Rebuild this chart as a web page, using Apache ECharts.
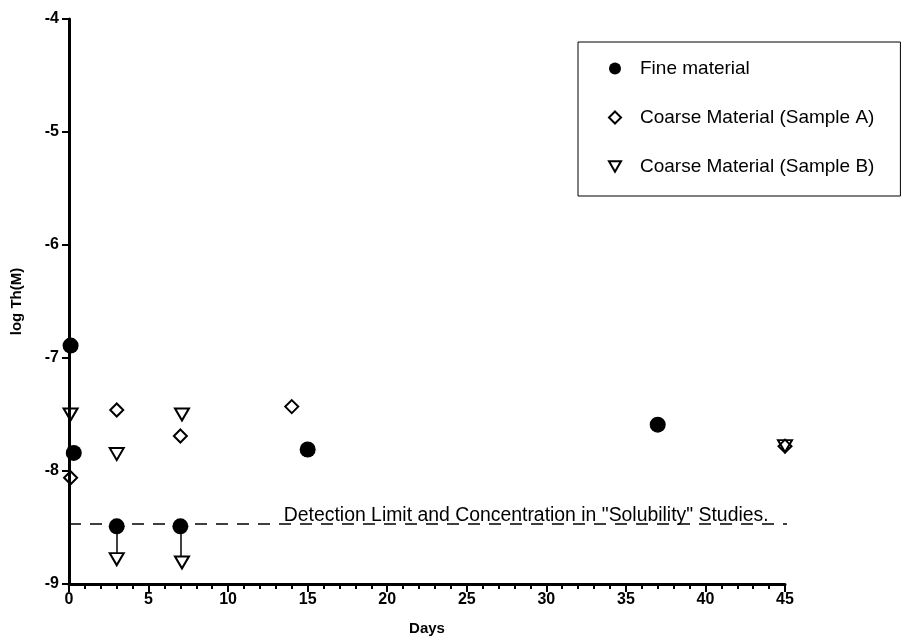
<!DOCTYPE html>
<html>
<head>
<meta charset="utf-8">
<script src="https://cdn.jsdelivr.net/npm/echarts@6/dist/echarts.min.js"></script>
<style>
  html, body { margin: 0; padding: 0; background: #fff; }
  #chart { width: 904px; height: 641px; }
</style>
</head>
<body>
<div id="chart"></div>
<script>
// Thorium concentration (log molar) versus contact time in days
const fineDays = [0.1, 0.3, 3, 7, 15, 37];
const fineLog = [-6.89, -7.84, -8.49, -8.49, -7.81, -7.59];

const sampleADays = [0.1, 3, 7, 14, 45];
const sampleALog = [-8.06, -7.46, -7.69, -7.43, -7.78];

const sampleBDays = [0.1, 3, 3, 7.1, 7.1, 45];
const sampleBLog = [-7.50, -7.85, -8.78, -7.50, -8.81, -7.78];

// "less than" arrows: from a fine-material point down to a Sample B point
const arrowDays = [3, 7];
const arrowTop = [-8.49, -8.49];
const arrowBottom = [-8.78, -8.81];

// detection limit reference line
const detectionLimit = -8.47;
const detectionSpan = [0, 46.3];
const detectionText = 'Detection Limit and Concentration in "Solubility" Studies.';
const detectionTextDay = 13.5;

const xTicks = { min: 0, max: 45, step: 5 };
const yTicks = { min: -9, max: -4, step: 1 };

const seriesNames = ['Fine material', 'Coarse Material (Sample A)', 'Coarse Material (Sample B)'];

const zip = (xs, ys) => xs.map((x, i) => [x, ys[i]]);

const font = '"Liberation Sans", Arial, Helvetica, sans-serif';
const downTriangle = 'path://M0,0L14,0L7,12Z';

const chart = echarts.init(document.getElementById('chart'), null, { renderer: 'canvas' });

chart.setOption({
  animation: false,
  backgroundColor: '#ffffff',
  textStyle: { fontFamily: font, color: '#000' },
  grid: { left: 69, right: 119, top: 19, bottom: 51, containLabel: false },
  legend: {
    orient: 'vertical',
    left: 578,
    top: 42,
    padding: [17, 26, 20, 30],
    itemGap: 30,
    itemWidth: 12,
    itemHeight: 12,
    borderColor: '#000',
    borderWidth: 1,
    backgroundColor: '#fff',
    selectedMode: false,
    textStyle: { fontFamily: font, fontSize: 19, color: '#000', padding: [0, 0, 0, 14] },
    data: seriesNames
  },
  xAxis: {
    type: 'value',
    min: xTicks.min,
    max: xTicks.max,
    interval: xTicks.step,
    z: 5,
    name: 'Days',
    nameLocation: 'middle',
    nameGap: 37,
    nameTextStyle: { fontFamily: font, fontWeight: 'bold', fontSize: 15, color: '#000' },
    axisLine: { show: true, onZero: false, lineStyle: { color: '#000', width: 3 } },
    axisTick: { show: true, length: 8, lineStyle: { color: '#000', width: 2 } },
    minorTick: { show: true, splitNumber: 5, length: 5, lineStyle: { color: '#000', width: 2 } },
    axisLabel: { fontFamily: font, fontWeight: 'bold', fontSize: 16, color: '#000', margin: 8 },
    splitLine: { show: false }
  },
  yAxis: {
    type: 'value',
    min: yTicks.min,
    max: yTicks.max,
    interval: yTicks.step,
    z: 5,
    name: 'log Th(M)',
    nameLocation: 'middle',
    nameGap: 45,
    nameTextStyle: { fontFamily: font, fontWeight: 'bold', fontSize: 15, color: '#000' },
    axisLine: { show: true, onZero: false, lineStyle: { color: '#000', width: 3 } },
    axisTick: { show: true, length: 7, lineStyle: { color: '#000', width: 2 } },
    axisLabel: { fontFamily: font, fontWeight: 'bold', fontSize: 16, color: '#000', margin: 10 },
    splitLine: { show: false }
  },
  series: [
    {
      name: 'detection limit',
      type: 'line',
      clip: false,
      silent: true,
      symbol: 'none',
      data: detectionSpan.map(d => [d, detectionLimit]),
      lineStyle: { color: '#000', width: 1.5, type: [12, 9] },
      z: 1
    },
    {
      name: 'detection label',
      type: 'scatter',
      silent: true,
      symbolSize: 0,
      data: [[detectionTextDay, detectionLimit]],
      itemStyle: { opacity: 1 },
      label: {
        show: true,
        position: 'right',
        distance: 0,
        offset: [0, -8],
        formatter: detectionText,
        fontFamily: font,
        fontSize: 19.4,
        color: '#000',
        opacity: 1
      },
      z: 1
    },
    {
      name: 'arrows',
      type: 'lines',
      coordinateSystem: 'cartesian2d',
      silent: true,
      data: arrowDays.map((d, i) => ({ coords: [[d, arrowTop[i]], [d, arrowBottom[i]]] })),
      lineStyle: { color: '#000', width: 1.5, opacity: 1 },
      z: 2
    },
    {
      name: seriesNames[2],
      type: 'scatter',
      symbol: downTriangle,
      symbolSize: [14, 12],
      data: zip(sampleBDays, sampleBLog),
      itemStyle: { color: '#fff', borderColor: '#000', borderWidth: 2, opacity: 1 },
      z: 3
    },
    {
      name: seriesNames[1],
      type: 'scatter',
      symbol: 'diamond',
      symbolSize: [13, 13],
      data: zip(sampleADays, sampleALog),
      itemStyle: { color: 'rgba(255,255,255,0)', borderColor: '#000', borderWidth: 2, opacity: 1 },
      z: 4
    },
    {
      name: seriesNames[0],
      type: 'scatter',
      symbol: 'circle',
      symbolSize: 16,
      data: zip(fineDays, fineLog),
      itemStyle: { color: '#000', borderColor: '#000', borderWidth: 0, opacity: 1 },
      z: 4
    }
  ]
});
</script>
</body>
</html>
